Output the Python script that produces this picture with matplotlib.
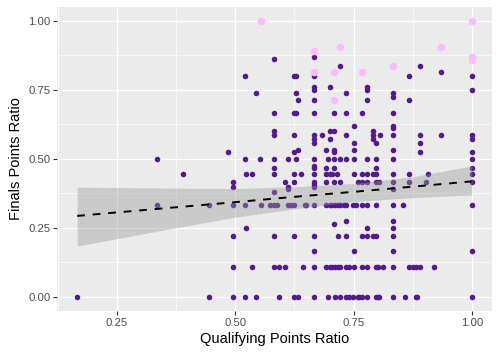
import numpy as np
import matplotlib
matplotlib.use("Agg")
import matplotlib.pyplot as plt
from matplotlib.ticker import MultipleLocator

plt.rcParams['font.family'] = ['Liberation Sans', 'DejaVu Sans']

# qualifying ratio values, one row per finals ratio level
row_000 = [.166, .444, .495, .521, .544, .593, .624, .632, .666, .696, .711, .721, .734, .74, .749,
           .759, .762, .768, .778, .797, .801, .803, .833, .859, .881, .885, 1.0]
row_011 = [.495, .536, .582, .593, .605, .644, .666, .692, .70, .705, .711, .717, .721, .734, .74, .75,
           .768, .778, .797, .801, .812, .833, .867, .875, .881, .89, .92]
row_017 = [.666, .75, .833, 1.0]
row_022 = [.495, .582, .624, .666, .717, .734, .768, .778, .791, .797, .833]
row_025 = [.523, .778, .833]
row_027 = [.708]
row_028 = [.734, .833]
row_033 = [.335, .444, .495, .521, .554, .573, .582, .588, .611, .617, .624, .647, .649, .666, .692,
           .70, .705, .711, .717, .721, .73, .734, .749, .756, .768, .778, .797, .833, .855, 1.0]
row_038 = [.582]
row_039 = [.611, .833]
row_040 = [.495, .611, .666]
row_041 = [.666]
row_042 = [.495, .606, .624, .666, .692, .708, .721, .759, .768, .778, .797, .803, .833, .867, .904, 1.0]
row_045 = [.389, .523, .536, .582, .624, .639, .666, .692, .70, .705, .715, .75, .768, .778, .791,
           .797, .833, .867, .908, 1.0]
row_047 = [.582, .666, .692, .708, .797, 1.0]
row_048 = [.666]
row_050 = [.335, .521, .553, .582, .611, .628, .666, .696, .708, .721, .734, .75, .778, .797, .833, 1.0]
row_053 = [.485, .624, .708, .89, 1.0]
row_0533 = [.632, .692, .708, .75, .833]
row_056 = [.666, .75, .797, .89]
row_057 = [.666, .70, .791, 1.0]
row_058 = [.582, .624, .666, .683, .734, .791, .806, .833, .89, .935, 1.0]
row_060 = [.582, .70, .708, .791]
row_061 = [.833]
row_062 = [.75, .833]
row_067 = [.582, .624, .628, .666, .708, .734, .768, .833]
row_071 = [.632, .666, .778, .867]
row_072 = [.833]
row_074 = [.544, .628, .734, .833]
row_075 = [.666, .778, 1.0]
row_076 = [.666, .70, .778]
row_080 = [.521, .624, .628, .666, .867, 1.0]
row_081 = [.935]
row_083 = [.721, .89]
row_086 = [.582]
row_087 = [.666]

rows = [(0.0, row_000), (0.109, row_011), (0.166, row_017), (0.222, row_022), (0.25, row_025),
        (0.265, row_027), (0.276, row_028), (0.334, row_033), (0.381, row_038), (0.389, row_039),
        (0.399, row_040), (0.406, row_041), (0.417, row_042), (0.446, row_045), (0.468, row_047),
        (0.475, row_048), (0.5, row_050), (0.526, row_053), (0.533, row_0533), (0.556, row_056),
        (0.573, row_057), (0.584, row_058), (0.60, row_060), (0.612, row_061), (0.62, row_062),
        (0.667, row_067), (0.714, row_071), (0.722, row_072), (0.736, row_074), (0.75, row_075),
        (0.761, row_076), (0.80, row_080), (0.812, row_081), (0.834, row_083), (0.859, row_086),
        (0.867, row_087)]

# highlighted drivers (pink)
top_qual = [.554, 1.0, .721, .935, .666, 1.0, 1.0, .833, .666, .708, .768, .708]
top_final = [1.0, 1.0, .905, .905, .889, .867, .857, .834, .812, .812, .812, .714]

# linear smooth and its confidence band
smooth_x = [0.166, 0.346, 0.495, 0.618, 0.749, 0.876, 1.0]
smooth_fit = [0.293, 0.320, 0.342, 0.361, 0.380, 0.399, 0.418]
smooth_lo = [0.184, 0.241, 0.287, 0.317, 0.345, 0.359, 0.369]
smooth_hi = [0.397, 0.394, 0.392, 0.398, 0.410, 0.435, 0.474]

qual = [x for y, xs in rows for x in xs]
final = [y for y, xs in rows for x in xs]

fig = plt.figure(figsize=(5, 3.58), dpi=100)
ax = fig.add_axes([0.1146, 0.1321, 0.8688, 0.8492])
ax.set_facecolor('#EBEBEB')

ax.scatter(qual, final, s=16, color='#551A8B', linewidths=0, zorder=3)
ax.scatter(top_qual, top_final, s=30, color='#FFBBFF', linewidths=0, zorder=3)
ax.fill_between(smooth_x, smooth_lo, smooth_hi, color='#999999', alpha=0.4, linewidth=0, zorder=4)
ax.plot(smooth_x, smooth_fit, color='black', lw=1.4, linestyle=(0, (4, 4)), zorder=5)

ax.set_xlim(0.124, 1.042)
ax.set_ylim(-0.05, 1.05)
ax.xaxis.set_minor_locator(MultipleLocator(0.125))
ax.yaxis.set_minor_locator(MultipleLocator(0.125))
ax.set_xticks([0.25, 0.5, 0.75, 1.0])
ax.set_xticklabels(['0.25', '0.50', '0.75', '1.00'])
ax.set_yticks([0, 0.25, 0.5, 0.75, 1.0])
ax.set_yticklabels(['0.00', '0.25', '0.50', '0.75', '1.00'])
ax.grid(which='major', color='white', lw=0.9)
ax.grid(which='minor', color='white', lw=0.45)
ax.set_axisbelow(True)
ax.tick_params(which='major', length=3, width=0.8, color='#333333', labelsize=8.2, labelcolor='#4D4D4D', pad=2)
ax.tick_params(which='minor', length=0)
for sp in ax.spines.values():
    sp.set_visible(False)

ax.set_xlabel('Qualifying Points Ratio', fontsize=10.5, labelpad=3)
ax.set_ylabel('Finals Points Ratio', fontsize=10.5, labelpad=4)

fig.savefig('out.png', dpi=100)
